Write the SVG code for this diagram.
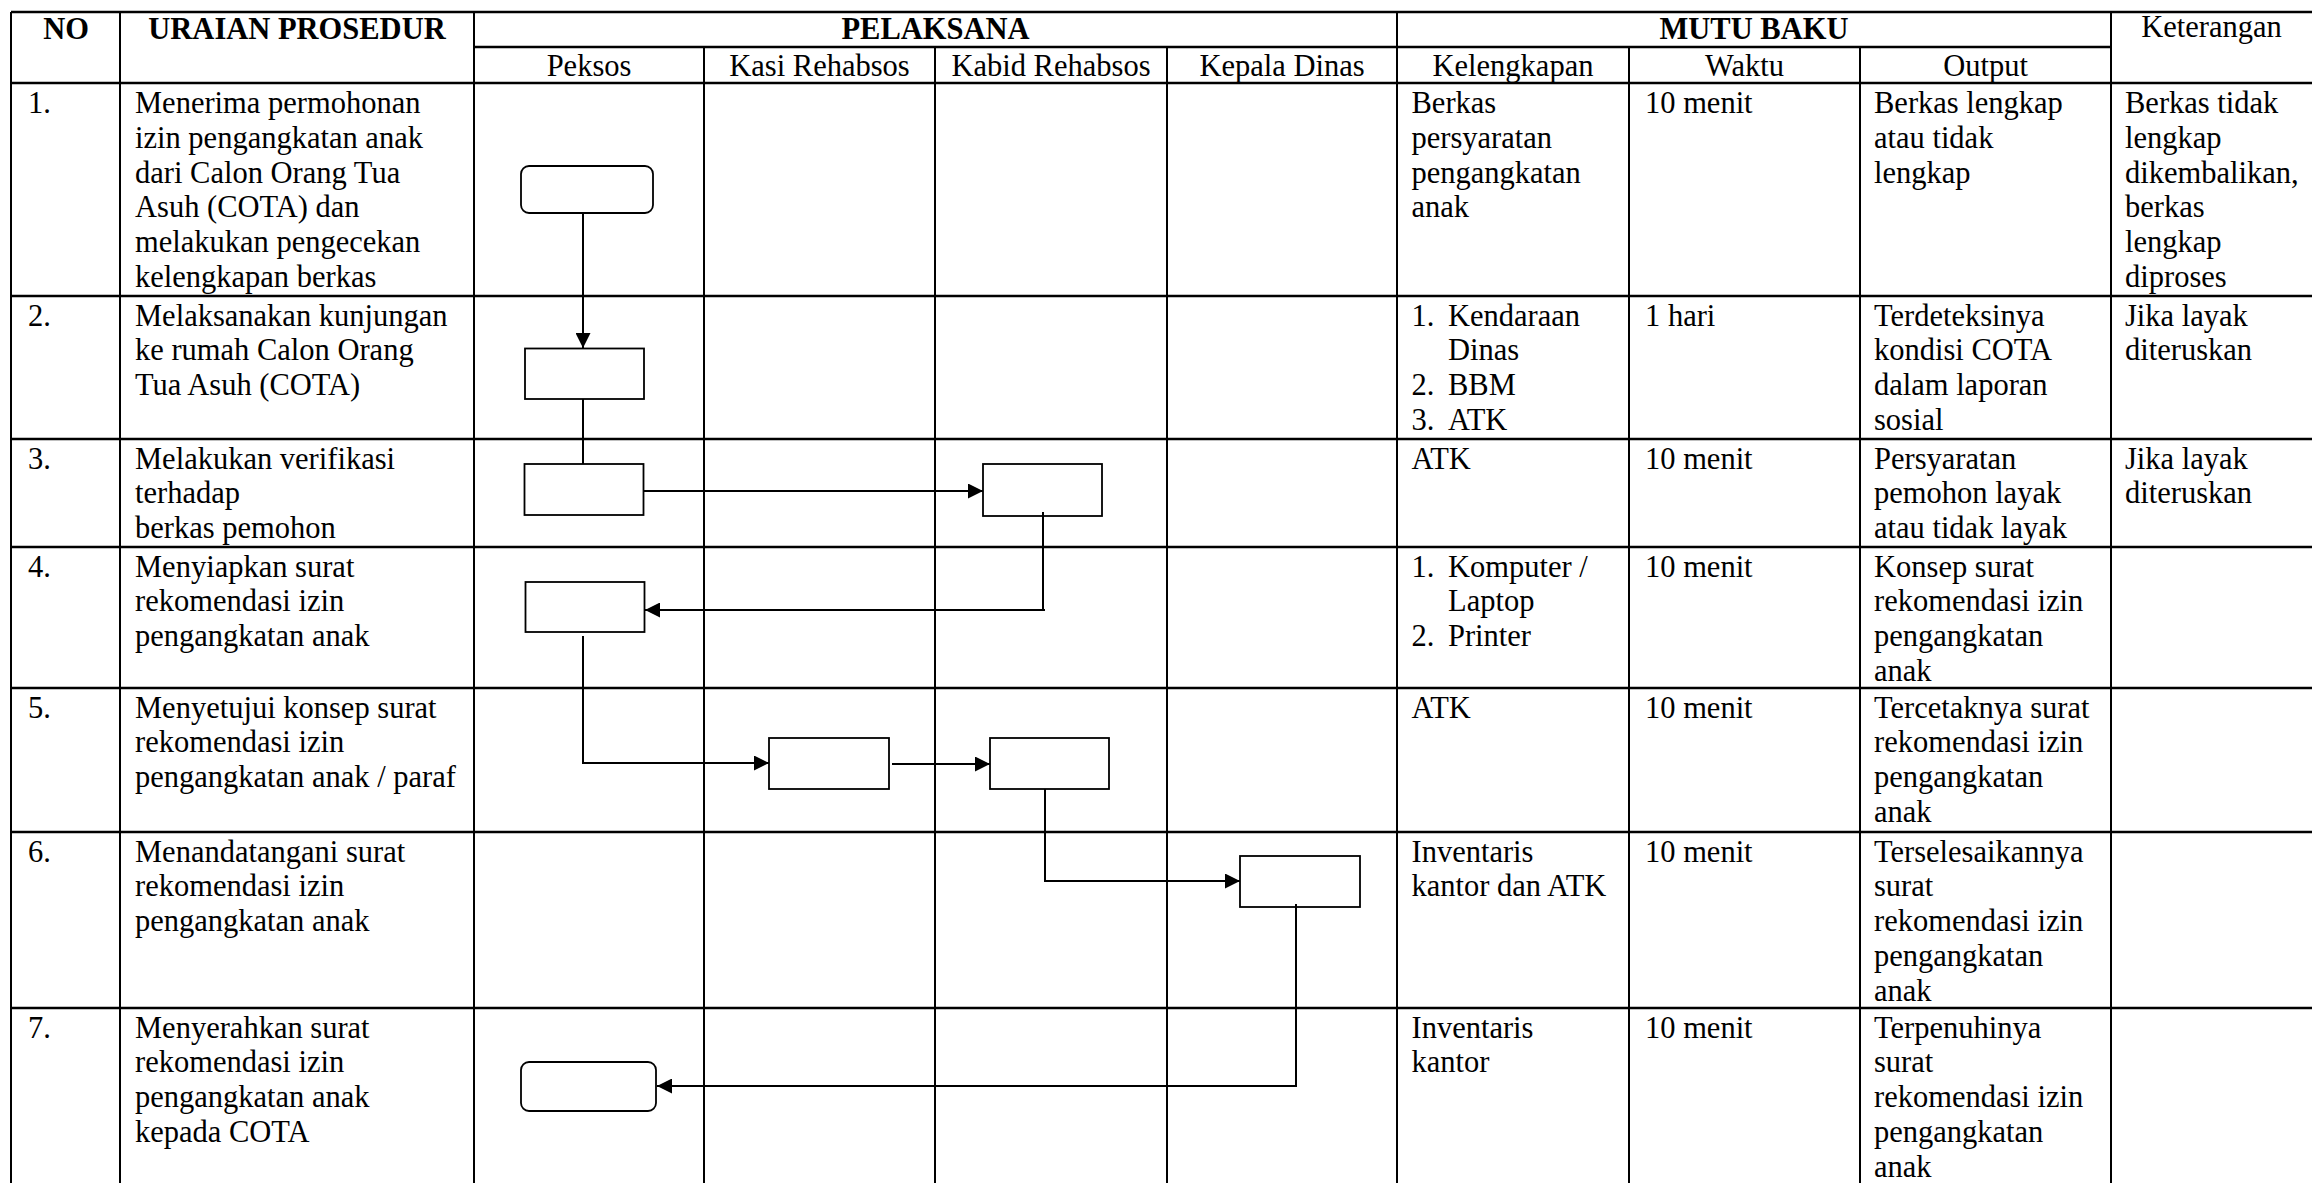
<svg xmlns="http://www.w3.org/2000/svg" width="2312" height="1183" viewBox="0 0 2312 1183">
<style>
.t{font-family:"Liberation Serif","Times New Roman",serif;font-size:30.5px;fill:#000}
.b{font-weight:bold}
.grid line{stroke:#000;stroke-width:2}
.grid line.h{stroke-width:2.6}
.node{fill:#fff;stroke:#000;stroke-width:1.8}
.conn{fill:none;stroke:#000;stroke-width:2}
</style>
<defs>
<marker id="arr" markerUnits="userSpaceOnUse" markerWidth="15" markerHeight="15" refX="15" refY="7.5" orient="auto">
<path d="M0,0 L15,7.5 L0,15 z" fill="#000"/>
</marker>
</defs>
<rect x="0" y="0" width="2312" height="1183" fill="#fff"/>
<g class="grid" id="table">
<line class="h" x1="11" y1="12" x2="2312" y2="12"/>
<line class="h" x1="474" y1="47" x2="2111" y2="47"/>
<line class="h" x1="11" y1="83" x2="2312" y2="83"/>
<line class="h" x1="11" y1="296" x2="2312" y2="296"/>
<line class="h" x1="11" y1="439" x2="2312" y2="439"/>
<line class="h" x1="11" y1="547" x2="2312" y2="547"/>
<line class="h" x1="11" y1="688" x2="2312" y2="688"/>
<line class="h" x1="11" y1="832" x2="2312" y2="832"/>
<line class="h" x1="11" y1="1008" x2="2312" y2="1008"/>
<line x1="11" y1="12" x2="11" y2="1183"/>
<line x1="120" y1="12" x2="120" y2="1183"/>
<line x1="474" y1="12" x2="474" y2="1183"/>
<line x1="1397" y1="12" x2="1397" y2="1183"/>
<line x1="2111" y1="12" x2="2111" y2="1183"/>
<line x1="704" y1="47" x2="704" y2="1183"/>
<line x1="935" y1="47" x2="935" y2="1183"/>
<line x1="1167" y1="47" x2="1167" y2="1183"/>
<line x1="1629" y1="47" x2="1629" y2="1183"/>
<line x1="1860" y1="47" x2="1860" y2="1183"/>
</g>
<g id="headers" class="t" text-anchor="middle">
<text class="b" x="66" y="39">NO</text>
<text class="b" x="297" y="39">URAIAN PROSEDUR</text>
<text class="b" x="935.5" y="39">PELAKSANA</text>
<text class="b" x="1754" y="39">MUTU BAKU</text>
<text x="2211.5" y="37">Keterangan</text>
<text x="589" y="75.5">Peksos</text>
<text x="819.5" y="75.5">Kasi Rehabsos</text>
<text x="1051" y="75.5">Kabid Rehabsos</text>
<text x="1282" y="75.5">Kepala Dinas</text>
<text x="1513" y="75.5">Kelengkapan</text>
<text x="1744.5" y="75.5">Waktu</text>
<text x="1985.5" y="75.5">Output</text>
</g>
<g id="col-no" class="t">
<text x="28" y="113">1.</text>
<text x="28" y="325.5">2.</text>
<text x="28" y="468.5">3.</text>
<text x="28" y="576.5">4.</text>
<text x="28" y="717.5">5.</text>
<text x="28" y="861.5">6.</text>
<text x="28" y="1037.5">7.</text>
</g>
<g id="col-uraian" class="t">
<text x="135" y="113">Menerima permohonan</text>
<text x="135" y="147.8">izin pengangkatan anak</text>
<text x="135" y="182.6">dari Calon Orang Tua</text>
<text x="135" y="217.4">Asuh (COTA) dan</text>
<text x="135" y="252.2">melakukan pengecekan</text>
<text x="135" y="287">kelengkapan berkas</text>
<text x="135" y="325.5">Melaksanakan kunjungan</text>
<text x="135" y="360.3">ke rumah Calon Orang</text>
<text x="135" y="395.1">Tua Asuh (COTA)</text>
<text x="135" y="468.5">Melakukan verifikasi</text>
<text x="135" y="503.3">terhadap</text>
<text x="135" y="538.1">berkas pemohon</text>
<text x="135" y="576.5">Menyiapkan surat</text>
<text x="135" y="611.3">rekomendasi izin</text>
<text x="135" y="646.1">pengangkatan anak</text>
<text x="135" y="717.5">Menyetujui konsep surat</text>
<text x="135" y="752.3">rekomendasi izin</text>
<text x="135" y="787.1">pengangkatan anak / paraf</text>
<text x="135" y="861.5">Menandatangani surat</text>
<text x="135" y="896.3">rekomendasi izin</text>
<text x="135" y="931.1">pengangkatan anak</text>
<text x="135" y="1037.5">Menyerahkan surat</text>
<text x="135" y="1072.3">rekomendasi izin</text>
<text x="135" y="1107.1">pengangkatan anak</text>
<text x="135" y="1141.9">kepada COTA</text>
</g>
<g id="col-kelengkapan" class="t">
<text x="1411.5" y="113">Berkas</text>
<text x="1411.5" y="147.8">persyaratan</text>
<text x="1411.5" y="182.6">pengangkatan</text>
<text x="1411.5" y="217.4">anak</text>
<text x="1411.5" y="325.5">1.</text><text x="1448" y="325.5">Kendaraan</text>
<text x="1448" y="360.3">Dinas</text>
<text x="1411.5" y="395.1">2.</text><text x="1448" y="395.1">BBM</text>
<text x="1411.5" y="429.9">3.</text><text x="1448" y="429.9">ATK</text>
<text x="1411.5" y="468.5">ATK</text>
<text x="1411.5" y="576.5">1.</text><text x="1448" y="576.5">Komputer /</text>
<text x="1448" y="611.3">Laptop</text>
<text x="1411.5" y="646.1">2.</text><text x="1448" y="646.1">Printer</text>
<text x="1411.5" y="717.5">ATK</text>
<text x="1411.5" y="861.5">Inventaris</text>
<text x="1411.5" y="896.3">kantor dan ATK</text>
<text x="1411.5" y="1037.5">Inventaris</text>
<text x="1411.5" y="1072.3">kantor</text>
</g>
<g id="col-waktu" class="t">
<text x="1645" y="113">10 menit</text>
<text x="1645" y="325.5">1 hari</text>
<text x="1645" y="468.5">10 menit</text>
<text x="1645" y="576.5">10 menit</text>
<text x="1645" y="717.5">10 menit</text>
<text x="1645" y="861.5">10 menit</text>
<text x="1645" y="1037.5">10 menit</text>
</g>
<g id="col-output" class="t">
<text x="1874" y="113">Berkas lengkap</text>
<text x="1874" y="147.8">atau tidak</text>
<text x="1874" y="182.6">lengkap</text>
<text x="1874" y="325.5">Terdeteksinya</text>
<text x="1874" y="360.3">kondisi COTA</text>
<text x="1874" y="395.1">dalam laporan</text>
<text x="1874" y="429.9">sosial</text>
<text x="1874" y="468.5">Persyaratan</text>
<text x="1874" y="503.3">pemohon layak</text>
<text x="1874" y="538.1">atau tidak layak</text>
<text x="1874" y="576.5">Konsep surat</text>
<text x="1874" y="611.3">rekomendasi izin</text>
<text x="1874" y="646.1">pengangkatan</text>
<text x="1874" y="680.9">anak</text>
<text x="1874" y="717.5">Tercetaknya surat</text>
<text x="1874" y="752.3">rekomendasi izin</text>
<text x="1874" y="787.1">pengangkatan</text>
<text x="1874" y="821.9">anak</text>
<text x="1874" y="861.5">Terselesaikannya</text>
<text x="1874" y="896.3">surat</text>
<text x="1874" y="931.1">rekomendasi izin</text>
<text x="1874" y="965.9">pengangkatan</text>
<text x="1874" y="1000.7">anak</text>
<text x="1874" y="1037.5">Terpenuhinya</text>
<text x="1874" y="1072.3">surat</text>
<text x="1874" y="1107.1">rekomendasi izin</text>
<text x="1874" y="1141.9">pengangkatan</text>
<text x="1874" y="1176.7">anak</text>
</g>
<g id="col-keterangan" class="t">
<text x="2125" y="113">Berkas tidak</text>
<text x="2125" y="147.8">lengkap</text>
<text x="2125" y="182.6">dikembalikan,</text>
<text x="2125" y="217.4">berkas</text>
<text x="2125" y="252.2">lengkap</text>
<text x="2125" y="287">diproses</text>
<text x="2125" y="325.5">Jika layak</text>
<text x="2125" y="360.3">diteruskan</text>
<text x="2125" y="468.5">Jika layak</text>
<text x="2125" y="503.3">diteruskan</text>
</g>
<g id="connectors">
<path class="conn" d="M583,213 V348" marker-end="url(#arr)"/>
<path class="conn" d="M583,399 V464"/>
<path class="conn" d="M644,491 H983" marker-end="url(#arr)"/>
<path class="conn" d="M1043,512 V610 H1045 M1043,610 H645" marker-end="url(#arr)"/>
<path class="conn" d="M583,636 V763 H769" marker-end="url(#arr)"/>
<path class="conn" d="M892,764 H990" marker-end="url(#arr)"/>
<path class="conn" d="M1045,789 V881 H1240" marker-end="url(#arr)"/>
<path class="conn" d="M1296,904 V1086 H657" marker-end="url(#arr)"/>
</g>
<g id="n1-start"><rect class="node" x="521" y="166" width="132" height="47" rx="8"/></g>
<g id="n2-kunjungan"><rect class="node" x="525" y="348.5" width="119" height="50.5"/></g>
<g id="n3-peksos"><rect class="node" x="524.5" y="464" width="119" height="51"/></g>
<g id="n3-kabid"><rect class="node" x="983" y="464" width="119" height="52" fill-opacity="0"/></g>
<g id="n4-peksos"><rect class="node" x="525.5" y="582" width="119" height="50"/></g>
<g id="n5-kasi"><rect class="node" x="769" y="738" width="120" height="51"/></g>
<g id="n5-kabid"><rect class="node" x="990" y="738" width="119" height="51"/></g>
<g id="n6-kepala"><rect class="node" x="1240" y="856" width="120" height="51" fill-opacity="0"/></g>
<g id="n7-end"><rect class="node" x="521" y="1062" width="135" height="49" rx="8"/></g>
</svg>
